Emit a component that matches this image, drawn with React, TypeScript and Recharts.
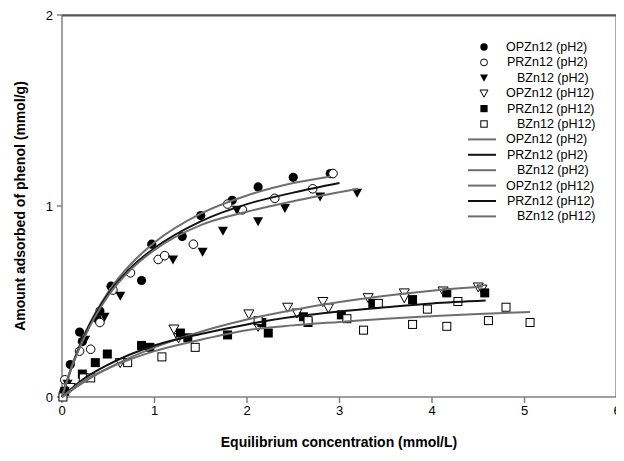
import React from 'react';
import { ScatterChart, Scatter, XAxis, YAxis, ReferenceLine } from 'recharts';

// ---------- measured points ----------
const opzn12Ph2 = [
  { x: 0.02, y: 0.03 }, { x: 0.09, y: 0.17 }, { x: 0.19, y: 0.34 }, { x: 0.22, y: 0.29 },
  { x: 0.38, y: 0.41 }, { x: 0.41, y: 0.45 }, { x: 0.53, y: 0.58 }, { x: 0.86, y: 0.61 },
  { x: 0.97, y: 0.8 }, { x: 1.3, y: 0.84 }, { x: 1.5, y: 0.95 }, { x: 1.84, y: 1.03 },
  { x: 2.12, y: 1.1 }, { x: 2.5, y: 1.15 }, { x: 2.9, y: 1.17 },
];
const przn12Ph2 = [
  { x: 0.03, y: 0.09 }, { x: 0.19, y: 0.24 }, { x: 0.31, y: 0.25 }, { x: 0.41, y: 0.39 },
  { x: 0.55, y: 0.56 }, { x: 0.74, y: 0.65 }, { x: 1.04, y: 0.72 }, { x: 1.11, y: 0.74 },
  { x: 1.42, y: 0.8 }, { x: 1.79, y: 1.01 }, { x: 1.95, y: 0.98 }, { x: 2.3, y: 1.04 },
  { x: 2.71, y: 1.09 }, { x: 2.93, y: 1.17 },
];
const bzn12Ph2 = [
  { x: 0.06, y: 0.07 }, { x: 0.25, y: 0.3 }, { x: 0.46, y: 0.42 }, { x: 0.63, y: 0.53 },
  { x: 1.2, y: 0.72 }, { x: 1.52, y: 0.76 }, { x: 1.74, y: 0.87 }, { x: 1.89, y: 0.98 },
  { x: 2.12, y: 0.92 }, { x: 2.41, y: 0.99 }, { x: 2.79, y: 1.05 }, { x: 3.19, y: 1.07 },
];
const opzn12Ph12 = [
  { x: 0.09, y: 0.05 }, { x: 0.63, y: 0.18 }, { x: 1.21, y: 0.356 }, { x: 1.26, y: 0.31 },
  { x: 2.02, y: 0.435 }, { x: 2.12, y: 0.37 }, { x: 2.44, y: 0.47 }, { x: 2.54, y: 0.44 },
  { x: 2.82, y: 0.5 }, { x: 2.88, y: 0.466 }, { x: 3.31, y: 0.52 }, { x: 3.7, y: 0.545 },
  { x: 3.7, y: 0.52 }, { x: 4.12, y: 0.555 }, { x: 4.5, y: 0.576 }, { x: 4.54, y: 0.565 },
];
const przn12Ph12 = [
  { x: 0.03, y: 0.03 }, { x: 0.22, y: 0.12 }, { x: 0.36, y: 0.18 }, { x: 0.49, y: 0.225 },
  { x: 0.86, y: 0.27 }, { x: 0.95, y: 0.26 }, { x: 1.28, y: 0.335 }, { x: 1.36, y: 0.31 },
  { x: 1.79, y: 0.325 }, { x: 2.16, y: 0.39 }, { x: 2.23, y: 0.335 }, { x: 2.61, y: 0.42 },
  { x: 2.66, y: 0.39 }, { x: 3.02, y: 0.43 }, { x: 3.36, y: 0.49 }, { x: 3.79, y: 0.51 },
  { x: 4.16, y: 0.545 }, { x: 4.57, y: 0.545 },
];
const bzn12Ph12 = [
  { x: 0.01, y: 0.0 }, { x: 0.23, y: 0.1 }, { x: 0.31, y: 0.1 }, { x: 0.71, y: 0.18 },
  { x: 1.08, y: 0.21 }, { x: 1.44, y: 0.26 }, { x: 2.12, y: 0.4 }, { x: 2.66, y: 0.4 },
  { x: 3.08, y: 0.41 }, { x: 3.26, y: 0.35 }, { x: 3.42, y: 0.49 }, { x: 3.79, y: 0.38 },
  { x: 3.95, y: 0.46 }, { x: 4.16, y: 0.37 }, { x: 4.28, y: 0.5 }, { x: 4.61, y: 0.4 },
  { x: 4.8, y: 0.47 }, { x: 5.06, y: 0.39 },
];

// ---------- fitted curves ----------
const fitOpzn12Ph2 = [
  { x: 0, y: 0 }, { x: 0.1, y: 0.154 }, { x: 0.25, y: 0.335 }, { x: 0.5, y: 0.55 },
  { x: 0.75, y: 0.699 }, { x: 1, y: 0.809 }, { x: 1.5, y: 0.96 }, { x: 2, y: 1.055 },
  { x: 2.5, y: 1.12 }, { x: 2.9, y: 1.155 },
];
const fitPrzn12Ph2 = [
  { x: 0, y: 0 }, { x: 0.1, y: 0.15 }, { x: 0.25, y: 0.33 }, { x: 0.5, y: 0.54 },
  { x: 0.75, y: 0.68 }, { x: 1, y: 0.78 }, { x: 1.5, y: 0.92 }, { x: 2, y: 1.01 },
  { x: 2.5, y: 1.07 }, { x: 3.0, y: 1.12 },
];
const fitBzn12Ph2 = [
  { x: 0, y: 0 }, { x: 0.1, y: 0.15 }, { x: 0.25, y: 0.32 }, { x: 0.5, y: 0.53 },
  { x: 0.75, y: 0.67 }, { x: 1, y: 0.77 }, { x: 1.5, y: 0.9 }, { x: 2, y: 0.97 },
  { x: 2.5, y: 1.025 }, { x: 3.2, y: 1.09 },
];
const fitOpzn12Ph12 = [
  { x: 0, y: 0 }, { x: 0.25, y: 0.082 }, { x: 0.5, y: 0.151 }, { x: 1, y: 0.26 },
  { x: 1.5, y: 0.342 }, { x: 2, y: 0.406 }, { x: 2.5, y: 0.456 }, { x: 3, y: 0.497 },
  { x: 3.5, y: 0.53 }, { x: 4, y: 0.556 }, { x: 4.55, y: 0.578 },
];
const fitPrzn12Ph12 = [
  { x: 0, y: 0 }, { x: 0.25, y: 0.1 }, { x: 0.5, y: 0.17 }, { x: 1, y: 0.27 },
  { x: 1.5, y: 0.33 }, { x: 2, y: 0.38 }, { x: 2.5, y: 0.42 }, { x: 3, y: 0.448 },
  { x: 3.5, y: 0.47 }, { x: 4, y: 0.49 }, { x: 4.58, y: 0.505 },
];
const fitBzn12Ph12 = [
  { x: 0, y: 0 }, { x: 0.25, y: 0.09 }, { x: 0.5, y: 0.15 }, { x: 1, y: 0.24 },
  { x: 1.5, y: 0.3 }, { x: 2, y: 0.35 }, { x: 2.5, y: 0.375 }, { x: 3, y: 0.393 },
  { x: 3.5, y: 0.41 }, { x: 4, y: 0.423 }, { x: 4.5, y: 0.435 }, { x: 5.06, y: 0.445 },
];

// ---------- axis & legend text ----------
const xTicks = [0, 1, 2, 3, 4, 5, 6];
const yTicks = [0, 1, 2];
const xTitle = 'Equilibrium concentration (mmol/L)';
const yTitle = 'Amount adsorbed of phenol (mmol/g)';
const markerLegend = ['OPZn12 (pH2)', 'PRZn12 (pH2)', 'BZn12 (pH2)', 'OPZn12 (pH12)', 'PRZn12 (pH12)', 'BZn12 (pH12)'];
const lineLegend = ['OPZn12 (pH2)', 'PRZn12 (pH2)', 'BZn12 (pH2)', 'OPZn12 (pH12)', 'PRZn12 (pH12)', 'BZn12 (pH12)'];

const FONT = '"Liberation Sans", Arial, sans-serif';
const GRAY = '#6e6e6e';
const BLACK = '#111';
const lineColors = [GRAY, BLACK, GRAY, GRAY, BLACK, GRAY];
const markerKinds = ['fcircle', 'ocircle', 'ftri', 'otri', 'fsquare', 'osquare'];
const textX = [506, 507, 517, 506, 507, 517];

function drawMarker(kind: string, cx: number, cy: number, s = 1) {
  switch (kind) {
    case 'fcircle':
      return <circle cx={cx} cy={cy} r={4.6 * s} fill="#000" />;
    case 'ocircle':
      return <circle cx={cx} cy={cy} r={4.3 * s} fill="#fff" stroke="#000" strokeWidth={1} />;
    case 'ftri':
      return <path d={`M${cx - 5 * s},${cy - 4 * s}L${cx + 5 * s},${cy - 4 * s}L${cx},${cy + 5 * s}Z`} fill="#000" />;
    case 'otri':
      return <path d={`M${cx - 5 * s},${cy - 4 * s}L${cx + 5 * s},${cy - 4 * s}L${cx},${cy + 5 * s}Z`} fill="#fff" stroke="#000" strokeWidth={1} />;
    case 'fsquare':
      return <rect x={cx - 4.5 * s} y={cy - 4.5 * s} width={9 * s} height={9 * s} fill="#000" />;
    default:
      return <rect x={cx - 4 * s} y={cy - 4 * s} width={8 * s} height={8 * s} fill="#fff" stroke="#000" strokeWidth={1} />;
  }
}

const mkShape = (kind: string) => (props: any) => {
  const { cx, cy } = props;
  if (cx == null || cy == null) return <g />;
  return <g>{drawMarker(kind, cx, cy)}</g>;
};
const noShape = () => <g />;

const YTitle = () => {
  const cx = 20;
  const cy = 206;
  return (
    <text x={cx} y={cy} transform={`rotate(-90 ${cx} ${cy})`} textAnchor="middle" dominantBaseline="central"
      fontFamily={FONT} fontSize={14} fontWeight="bold" fill="#000">
      {yTitle}
    </text>
  );
};
const XTitle = () => (
  <text x={339} y={442} textAnchor="middle" dominantBaseline="central" fontFamily={FONT} fontSize={14} fontWeight="bold" fill="#000">
    {xTitle}
  </text>
);

const markerSeries = [opzn12Ph2, przn12Ph2, bzn12Ph2, opzn12Ph12, przn12Ph12, bzn12Ph12];
const fitSeries = [fitOpzn12Ph2, fitPrzn12Ph2, fitBzn12Ph2, fitOpzn12Ph12, fitPrzn12Ph12, fitBzn12Ph12];

const W = 624;
const H = 461;

export default function App() {
  return (
    <div style={{ position: 'relative', width: W, height: H, margin: -8 }}>
      <style>{'html,body{overflow:hidden;}'}</style>
      <ScatterChart width={W} height={H} margin={{ top: 15, right: 7, left: 0, bottom: 0 }}>
        <XAxis
          type="number" dataKey="x" domain={[0, 6]} ticks={xTicks} interval={0}
          height={64} tickSize={6} tickMargin={3}
          stroke="#808080" strokeWidth={1.5}
          tick={{ fill: '#000', fontSize: 13, fontFamily: FONT }}
          label={<XTitle />}
        />
        <YAxis
          type="number" dataKey="y" domain={[0, 2]} ticks={yTicks} interval={0}
          width={62} tickSize={5} tickMargin={4}
          stroke="#808080" strokeWidth={1.5}
          tick={{ fill: '#000', fontSize: 13, fontFamily: FONT }}
          label={<YTitle />}
        />
        <ReferenceLine y={2} stroke="#808080" strokeWidth={1.5} ifOverflow="visible" />
        <ReferenceLine x={6} stroke="#000" strokeWidth={1.5} ifOverflow="visible" />
        {markerSeries.map((d, i) => (
          <Scatter key={'m' + i} name={markerLegend[i]} data={d} shape={mkShape(markerKinds[i])} isAnimationActive={false} />
        ))}
        {fitSeries.map((d, i) => (
          <Scatter
            key={'f' + i} name={lineLegend[i]} data={d} fill="none" shape={noShape}
            line={{ stroke: lineColors[i], strokeWidth: 2, fill: 'none' }}
            lineType="joint" lineJointType="monotoneX" isAnimationActive={false}
          />
        ))}
      </ScatterChart>
      <svg width={W} height={H} style={{ position: 'absolute', left: 0, top: 0, pointerEvents: 'none' }}>
        <path d="M62,15.5 L616.5,15.5 L616.5,397" fill="none" stroke="#555" strokeWidth={2} />
        {markerLegend.map((t, i) => {
          const y = 47 + 15.4 * i;
          return (
            <g key={'lm' + i}>
              {drawMarker(markerKinds[i], 484, y, 0.8)}
              <text x={textX[i]} y={y} dominantBaseline="central" fontFamily={FONT} fontSize={12.5} fill="#000">{t}</text>
            </g>
          );
        })}
        {lineLegend.map((t, i) => {
          const y = 47 + 15.4 * (i + 6);
          return (
            <g key={'ll' + i}>
              <line x1={468} x2={496} y1={y} y2={y} stroke={lineColors[i]} strokeWidth={2} />
              <text x={textX[i]} y={y} dominantBaseline="central" fontFamily={FONT} fontSize={12.5} fill="#000">{t}</text>
            </g>
          );
        })}
      </svg>
    </div>
  );
}
